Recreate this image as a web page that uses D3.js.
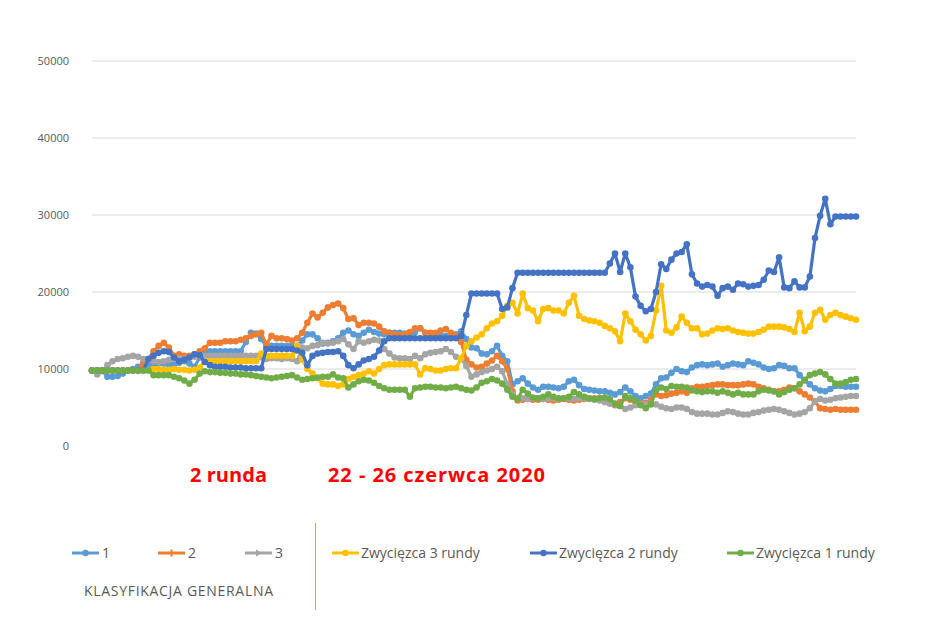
<!DOCTYPE html>
<html>
<head>
<meta charset="utf-8">
<script src="https://cdn.jsdelivr.net/npm/d3@7"></script>
<style>
body { margin: 0; background: #fff; }
text { font-family: "Open Sans", sans-serif; }
</style>
</head>
<body>
<script>
var width = 937;
var height = 626;

// y axis ticks
var yTicks = [0, 10000, 20000, 30000, 40000, 50000];

// series values (one point per trading session)
var s1 = [9800,9800,9800,9000,9000,9100,9400,9800,10000,10300,
10300,10500,10600,10700,10700,10600,10600,10800,11000,10700,
10300,11500,12100,12300,12300,12300,12300,12300,12300,12300,
13500,14700,14600,13900,13000,13000,13000,13000,13000,13000,
13000,13700,14500,14500,14000,13300,13400,13600,14000,14700,
15000,14500,14300,14700,15100,14800,14600,14500,14700,14700,
14700,14600,14300,14800,15300,14700,14500,14300,14300,14300,
14300,14500,14900,13900,12800,12700,12000,11900,12300,13000,
11700,11000,8000,8400,8800,8100,7600,7300,7700,7700,
7600,7500,7700,8400,8600,7900,7400,7300,7200,7100,
7100,6900,6700,7000,7600,7100,6500,6200,6500,6800,
8000,8800,8900,9500,10000,9700,9600,10200,10500,10600,
10500,10600,10700,10300,10500,10700,10600,10500,11000,10800,
10600,10200,10000,10100,10500,10400,10100,10100,9200,8500,
8000,7500,7200,7100,7400,7800,7800,7700,7700,7700];

var s2 = [9800,9800,9800,9800,9800,9800,9800,9800,9800,9800,
10800,11300,12300,13000,13400,12800,11700,11900,11700,11700,
11900,12300,12700,13400,13400,13400,13600,13600,13600,13800,
14000,14300,14500,14700,13200,14300,14000,14000,13900,13700,
14000,14700,16000,17200,16700,17300,18000,18300,18500,17900,
16500,16600,15700,16000,16000,15900,15500,14900,14700,14500,
14400,14500,14800,15300,15300,14700,14700,14700,15000,15200,
14700,14300,13500,11200,10600,10200,10300,10700,11100,11700,
11000,10000,7100,5900,6000,6100,6000,6000,6100,6000,
5900,6000,6100,6000,5900,6000,6100,6200,6200,6200,
6100,5800,5300,5700,6200,6000,5700,5500,5600,6000,
6700,6500,6600,6800,6900,7100,6900,7500,7700,7700,
7800,7900,8000,8000,7900,7900,7900,8000,8100,8000,
7700,7500,7300,7100,7100,7300,7600,7500,7100,6700,
6300,5800,4900,4800,4700,4800,4700,4700,4700,4700];

var s3 = [9800,9300,9700,10500,11000,11300,11400,11600,11700,11600,
11300,11200,11000,10900,11000,11200,11300,11400,11300,11500,
11600,11700,11700,11700,11700,11700,11700,11700,11700,11700,
11700,11700,11700,11500,11300,11400,11400,11300,11400,11300,
11000,12800,12700,13000,13100,13400,13300,13400,13600,13900,
13200,12600,13600,13400,13600,13800,13700,12600,12000,11500,
11400,11400,11300,11700,11400,11900,12100,12200,12300,12600,
12200,11600,11300,10400,9000,9300,9600,9800,10000,10300,
9700,8000,6700,6200,6200,6100,6200,6200,6100,6200,
6200,6100,6200,6200,6100,6200,6200,6100,6000,5900,
5700,5500,5400,5200,4800,5000,5300,5400,5400,5500,
5400,5100,4900,4800,5000,5000,4800,4400,4200,4200,
4200,4100,4100,4300,4500,4400,4200,4100,4100,4300,
4400,4600,4700,4800,4700,4500,4300,4100,4200,4400,
4900,5800,6100,5900,6000,6200,6300,6400,6500,6500];

var zw3 = [9800,9800,9800,9800,9800,9800,9800,9800,9800,9800,
9800,9800,10000,10000,9900,9900,10000,9900,9900,9800,
9900,10200,11000,11000,11000,11000,11000,11000,11000,11000,
11000,11000,11000,12000,11700,11700,11700,11700,11700,11700,
13000,11200,10000,9400,8800,8100,8000,8000,7800,8000,
8700,9000,9200,9400,9700,9400,10000,10500,10600,10600,
10600,10600,10600,10600,9300,10100,10000,9800,9800,10000,
10100,10100,11400,13000,13600,14100,14500,15300,15900,16200,
16900,18200,18600,17200,19800,17900,17600,16200,17800,17900,
17600,17600,17200,18600,19500,16900,16500,16300,16200,16000,
15600,15300,14900,13600,17200,16200,15100,14500,13700,14300,
17600,20800,15000,14700,15400,16800,16000,15300,15300,14500,
14600,15000,15300,15200,15300,15000,14800,14700,14600,14600,
14800,15100,15500,15500,15500,15400,15200,14800,17300,14900,
15500,17300,17700,16400,17000,17300,17000,16800,16600,16400];

var zw2 = [9800,9800,9800,9800,9800,9800,9800,9800,9800,9800,
9800,11300,11700,12100,12300,12200,11500,11000,11200,11500,
11900,11800,10900,10500,10300,10300,10300,10200,10200,10200,
10100,10100,10100,10100,12600,12600,12600,12600,12600,12600,
12400,12100,10500,11700,12000,12100,12200,12200,12300,11700,
10500,10100,10600,11100,11300,11600,12400,13600,14000,14000,
14000,14000,14000,14000,14000,14000,14000,14000,14000,14000,
14000,14000,14300,17000,19800,19800,19800,19800,19800,19800,
17800,18000,20500,22500,22500,22500,22500,22500,22500,22500,
22500,22500,22500,22500,22500,22500,22500,22500,22500,22500,
22500,23700,25000,22600,25000,23200,19400,18200,17500,17800,
20000,23600,23000,24200,25000,25200,26200,22300,21100,20700,
20900,20700,19500,20500,20700,20300,21100,21000,20700,20800,
20900,21600,22800,22600,24500,20600,20500,21400,20600,20600,
22000,27000,29900,32100,28800,29800,29800,29800,29800,29800];

var zw1 = [9800,9800,9800,9800,9800,9800,9800,9800,9800,9800,
9800,9800,9200,9200,9200,9200,9000,8800,8500,8100,
8600,9400,9700,9600,9600,9500,9500,9400,9400,9300,
9300,9200,9100,9000,8900,8800,8900,9000,9100,9200,
8900,8600,8700,8800,8900,9000,9000,9300,8900,8800,
7600,8000,8400,8600,8500,8200,7800,7500,7300,7300,
7300,7300,6400,7500,7600,7700,7700,7600,7600,7500,
7600,7700,7500,7300,7200,7600,8200,8400,8700,8500,
8100,7300,6400,6100,7300,6800,6300,6200,6400,6700,
6400,6200,6200,6400,7000,6700,6400,6200,6100,6200,
6300,6100,5500,5200,6500,6200,5900,5300,4900,5400,
7200,7600,7400,7800,7700,7700,7600,7200,7100,7000,
7100,7100,6900,7100,6900,6700,6900,6700,6700,6700,
7100,7300,7200,7100,6700,7000,7300,7500,8000,8600,
9200,9400,9600,9300,8700,8100,8100,8300,8600,8700];

var seriesNames = ["1", "2", "3", "Zwycięzca 3 rundy", "Zwycięzca 2 rundy", "Zwycięzca 1 rundy"];
var seriesValues = [s1, s2, s3, zw3, zw2, zw1];
var colors = ["#5B9BD5", "#ED7D31", "#A5A5A5", "#FFC000", "#4472C4", "#70AD47"];

var svg = d3.select("body")
.append("svg")
.attr("width", width)
.attr("height", height);

var xScale = d3.scaleLinear()
.domain([0, s1.length - 1])
.range([92, 856]);

var yScale = d3.scaleLinear()
.domain([0, 50000])
.range([446, 61]);

// gridlines
svg.append("g")
.selectAll("line")
.data(yTicks.filter(function(d){ return d > 0; }))
.enter()
.append("line")
.attr("x1", 92)
.attr("x2", 856)
.attr("y1", function(d){ return yScale(d); })
.attr("y2", function(d){ return yScale(d); })
.attr("stroke", "#d9d9d9")
.attr("stroke-width", 1);

var yAxis = d3.axisLeft(yScale)
.tickValues(yTicks)
.tickSize(0)
.tickPadding(0)
.tickFormat(function(d){ return String(d); });

var gy = svg.append("g")
.attr("transform", "translate(69,0)")
.call(yAxis);
gy.select(".domain").remove();
gy.selectAll("text")
.attr("fill", "#595959")
.attr("font-size", "11px")
.attr("font-family", "Open Sans, sans-serif");

var line = d3.line()
.x(function(d, i){ return xScale(i); })
.y(function(d){ return yScale(d); });

seriesValues.forEach(function(vals, k){
	var g = svg.append("g");
	g.append("path")
	.attr("d", line(vals))
	.attr("fill", "none")
	.attr("stroke", colors[k])
	.attr("stroke-width", 3.2)
	.attr("stroke-linejoin", "round");
	g.selectAll("circle")
	.data(vals)
	.enter()
	.append("circle")
	.attr("cx", function(d, i){ return xScale(i); })
	.attr("cy", function(d){ return yScale(d); })
	.attr("r", 3.3)
	.attr("fill", colors[k]);
});

// red annotation
svg.append("text")
.attr("x", 190)
.attr("y", 482)
.attr("fill", "#FF0000")
.attr("font-size", "20px")
.attr("font-weight", "bold")
.attr("textLength", 77)
.attr("lengthAdjust", "spacing")
.text("2 runda");

svg.append("text")
.attr("x", 328)
.attr("y", 482)
.attr("fill", "#FF0000")
.attr("font-size", "20px")
.attr("font-weight", "bold")
.attr("textLength", 217)
.attr("lengthAdjust", "spacing")
.text("22 - 26 czerwca 2020");

// legend
var legendX = [72, 158, 245, 332, 530, 727];
var legendY = 553;
seriesNames.forEach(function(name, k){
	var lg = svg.append("g").attr("transform", "translate(" + legendX[k] + "," + legendY + ")");
	lg.append("line")
	.attr("x1", 0).attr("x2", 27)
	.attr("y1", 0).attr("y2", 0)
	.attr("stroke", colors[k])
	.attr("stroke-width", 3);
	if (k == 1) {
		lg.append("line")
		.attr("x1", 13.5).attr("x2", 13.5)
		.attr("y1", -3.5).attr("y2", 3.5)
		.attr("stroke", colors[k])
		.attr("stroke-width", 2);
	} else if (k == 2) {
		lg.append("path")
		.attr("d", "M11,-3.5 L17,0 L11,3.5 Z")
		.attr("fill", colors[k]);
	} else {
		lg.append("circle")
		.attr("cx", 13.5).attr("cy", 0)
		.attr("r", 3.2)
		.attr("fill", colors[k]);
	}
	lg.append("text")
	.attr("x", k < 3 ? 30 : 29)
	.attr("y", 0)
	.attr("dy", "0.35em")
	.attr("fill", "#595959")
	.attr("font-size", "14px")
	.text(name);
});

svg.append("line")
.attr("x1", 315.5).attr("x2", 315.5)
.attr("y1", 523).attr("y2", 610)
.attr("stroke", "#8faadc")
.attr("stroke-width", 1);

svg.append("text")
.attr("x", 84)
.attr("y", 591)
.attr("dy", "0.35em")
.attr("fill", "#595959")
.attr("font-size", "14px")
.attr("textLength", 189)
.attr("lengthAdjust", "spacing")
.text("KLASYFIKACJA GENERALNA");
</script>
</body>
</html>
